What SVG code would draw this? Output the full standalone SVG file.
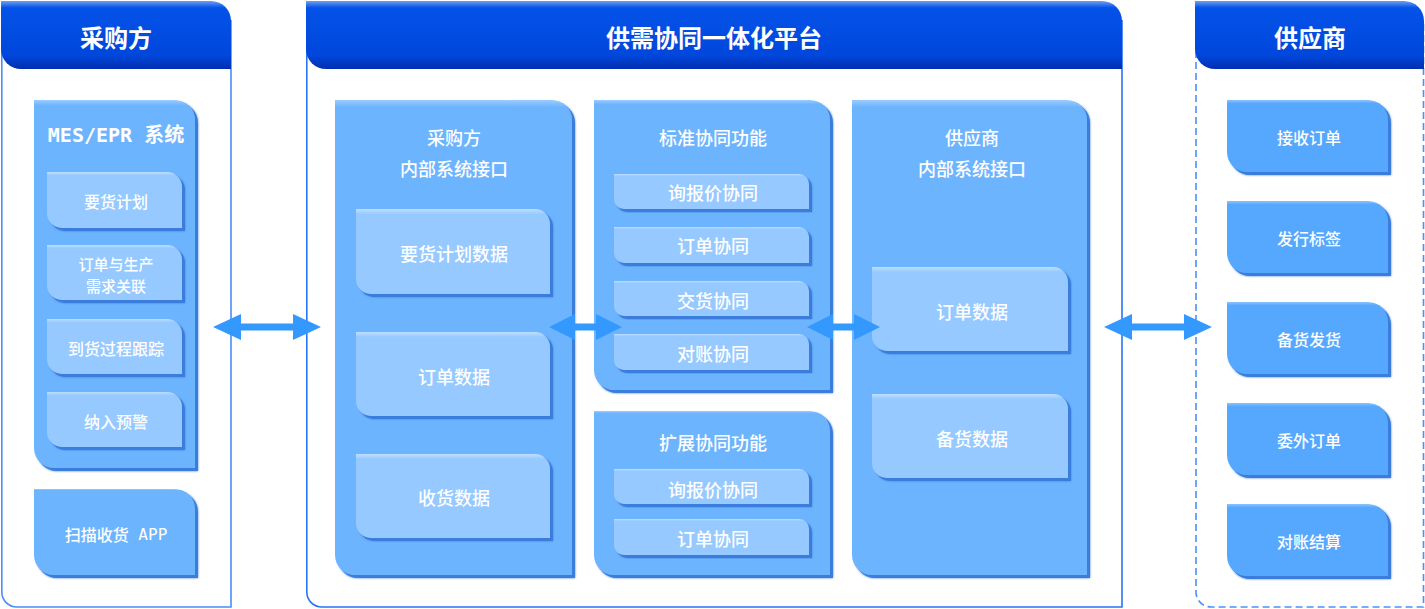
<svg xmlns="http://www.w3.org/2000/svg" width="1425" height="609" viewBox="0 0 1425 609">
<style>
text{font-family:"Noto Sans CJK SC","Noto Sans",sans-serif;fill:#fff;text-anchor:middle;dominant-baseline:central;font-weight:500}
.h{font-size:24px;font-weight:bold}
.t{font-size:18px}
.s{font-size:16px}
.s2{font-size:15px}
.m{font-family:"DejaVu Sans Mono","Noto Sans CJK SC",monospace}
.frame{fill:none;stroke-width:1.6}
.box{fill:url(#gBox);filter:url(#bev)}
.sub{fill:url(#gSub);filter:url(#bev)}
.rbox{fill:url(#gR);filter:url(#bev)}
.hdr{fill:url(#gH)}
.arr{fill:#3399ff}
</style>
<defs>
<linearGradient id="gH" x1="0" y1="0" x2="0" y2="1">
<stop offset="0" stop-color="#6d9ef0"/><stop offset="0.1" stop-color="#0552e8"/><stop offset="0.8" stop-color="#0047dc"/><stop offset="1" stop-color="#002fb0"/>
</linearGradient>
<linearGradient id="gBox" x1="0" y1="0" x2="0" y2="1">
<stop offset="0" stop-color="#9ccbff"/><stop offset="0.015" stop-color="#6db4ff"/><stop offset="1" stop-color="#6db4ff"/>
</linearGradient>
<linearGradient id="gSub" x1="0" y1="0" x2="0" y2="1">
<stop offset="0" stop-color="#c0dfff"/><stop offset="0.06" stop-color="#95c9ff"/><stop offset="1" stop-color="#95c9ff"/>
</linearGradient>
<linearGradient id="gR" x1="0" y1="0" x2="0" y2="1">
<stop offset="0" stop-color="#8cc3ff"/><stop offset="0.05" stop-color="#56a8ff"/><stop offset="1" stop-color="#56a8ff"/>
</linearGradient>
<filter id="bev" x="-5%" y="-5%" width="115%" height="115%">
<feOffset in="SourceAlpha" dx="3" dy="3" result="o"/>
<feFlood flood-color="#3b7ddc"/>
<feComposite in2="o" operator="in" result="s"/>
<feGaussianBlur in="s" stdDeviation="1" result="sb"/>
<feMerge><feMergeNode in="sb"/><feMergeNode in="s"/><feMergeNode in="SourceGraphic"/></feMerge>
</filter>
</defs>

<g id="buyer-panel">
<path class="frame" stroke="#4b8df8" d="M1.8,40 V592 A15,15 0 0 0 16.8,607 H231 V20"/>
<path class="hdr" d="M1,1 H211 A20,20 0 0 1 231,21 V69 H21 A20,20 0 0 1 1,49 Z"/>
<text class="h" x="116" y="36">采购方</text>
</g>
<g id="mes">
<path class="box" d="M34,100 H175 A20,20 0 0 1 195,120 V468 H54 A20,20 0 0 1 34,448 Z"/>
<text class="m" style="font-size:20px;font-weight:bold" x="116" y="135">MES/EPR 系统</text>
</g>
<g id="mes-1"><path class="sub" d="M47,172 H167 A15,15 0 0 1 182,187 V228 H62 A15,15 0 0 1 47,213 Z"/><text class="s" x="116" y="201">要货计划</text></g>
<g id="mes-2"><path class="sub" d="M47,245 H167 A15,15 0 0 1 182,260 V300 H62 A15,15 0 0 1 47,285 Z"/><text class="s2" x="116" y="263">订单与生产</text><text class="s2" x="116" y="285">需求关联</text></g>
<g id="mes-3"><path class="sub" d="M47,319 H167 A15,15 0 0 1 182,334 V374 H62 A15,15 0 0 1 47,359 Z"/><text class="s" x="116" y="348">到货过程跟踪</text></g>
<g id="mes-4"><path class="sub" d="M47,392 H167 A15,15 0 0 1 182,407 V447 H62 A15,15 0 0 1 47,432 Z"/><text class="s" x="116" y="421">纳入预警</text></g>
<g id="scan-app">
<path class="box" d="M34,489 H175 A20,20 0 0 1 195,509 V575 H54 A20,20 0 0 1 34,555 Z"/>
<text class="s" x="116" y="534"><tspan>扫描收货</tspan><tspan class="m"> APP</tspan></text>
</g>

<g id="platform-panel">
<path class="frame" stroke="#2a74f6" d="M306.8,40 V592 A15,15 0 0 0 321.8,607 H1122 V20"/>
<path class="hdr" d="M306,1 H1102 A20,20 0 0 1 1122,21 V69 H326 A20,20 0 0 1 306,49 Z"/>
<text class="h" x="714" y="36">供需协同一体化平台</text>
</g>
<g id="buyer-interface">
<path class="box" d="M335,100 H552 A20,20 0 0 1 572,120 V575 H355 A20,20 0 0 1 335,555 Z"/>
<text class="t" x="454" y="137">采购方</text><text class="t" x="454" y="168">内部系统接口</text>
</g>
<g id="bi-1"><path class="sub" d="M356,209 H535 A15,15 0 0 1 550,224 V294 H371 A15,15 0 0 1 356,279 Z"/><text class="t" x="454" y="253">要货计划数据</text></g>
<g id="bi-2"><path class="sub" d="M356,332 H535 A15,15 0 0 1 550,347 V416 H371 A15,15 0 0 1 356,401 Z"/><text class="t" x="454" y="376">订单数据</text></g>
<g id="bi-3"><path class="sub" d="M356,454 H535 A15,15 0 0 1 550,469 V538 H371 A15,15 0 0 1 356,523 Z"/><text class="t" x="454" y="497">收货数据</text></g>

<g id="standard">
<path class="box" d="M594,100 H810 A20,20 0 0 1 830,120 V390 H614 A20,20 0 0 1 594,370 Z"/>
<text class="t" x="713" y="137">标准协同功能</text>
</g>
<g id="std-1"><path class="sub" d="M614,174 H799 A10,10 0 0 1 809,184 V209 H624 A10,10 0 0 1 614,199 Z"/><text class="t" x="713" y="192">询报价协同</text></g>
<g id="std-2"><path class="sub" d="M614,227 H799 A10,10 0 0 1 809,237 V263 H624 A10,10 0 0 1 614,253 Z"/><text class="t" x="713" y="245">订单协同</text></g>
<g id="std-3"><path class="sub" d="M614,281 H799 A10,10 0 0 1 809,291 V316 H624 A10,10 0 0 1 614,306 Z"/><text class="t" x="713" y="300">交货协同</text></g>
<g id="std-4"><path class="sub" d="M614,334 H799 A10,10 0 0 1 809,344 V370 H624 A10,10 0 0 1 614,360 Z"/><text class="t" x="713" y="353">对账协同</text></g>

<g id="extended">
<path class="box" d="M594,411 H810 A20,20 0 0 1 830,431 V575 H614 A20,20 0 0 1 594,555 Z"/>
<text class="t" x="713" y="442">扩展协同功能</text>
</g>
<g id="ext-1"><path class="sub" d="M614,469 H799 A10,10 0 0 1 809,479 V504 H624 A10,10 0 0 1 614,494 Z"/><text class="t" x="713" y="489">询报价协同</text></g>
<g id="ext-2"><path class="sub" d="M614,519 H799 A10,10 0 0 1 809,529 V555 H624 A10,10 0 0 1 614,545 Z"/><text class="t" x="713" y="538">订单协同</text></g>

<g id="supplier-interface">
<path class="box" d="M852,100 H1067 A20,20 0 0 1 1087,120 V575 H872 A20,20 0 0 1 852,555 Z"/>
<text class="t" x="972" y="137">供应商</text><text class="t" x="972" y="168">内部系统接口</text>
</g>
<g id="si-1"><path class="sub" d="M872,267 H1053 A15,15 0 0 1 1068,282 V351 H887 A15,15 0 0 1 872,336 Z"/><text class="t" x="972" y="311">订单数据</text></g>
<g id="si-2"><path class="sub" d="M872,394 H1053 A15,15 0 0 1 1068,409 V478 H887 A15,15 0 0 1 872,463 Z"/><text class="t" x="972" y="438">备货数据</text></g>

<g id="supplier-panel">
<path class="frame" stroke="#4b90fb" stroke-dasharray="7,4" d="M1196,40 V592 A15,15 0 0 0 1211,607 H1423.5 V20"/>
<path class="hdr" d="M1195,1 H1404 A20,20 0 0 1 1424,21 V69 H1215 A20,20 0 0 1 1195,49 Z"/>
<text class="h" x="1310" y="36">供应商</text>
</g>
<g id="sup-1"><path class="rbox" d="M1227,100 H1368 A20,20 0 0 1 1388,120 V172 H1247 A20,20 0 0 1 1227,152 Z"/><text class="s" x="1309" y="137">接收订单</text></g>
<g id="sup-2"><path class="rbox" d="M1227,201 H1368 A20,20 0 0 1 1388,221 V273 H1247 A20,20 0 0 1 1227,253 Z"/><text class="s" x="1309" y="238">发行标签</text></g>
<g id="sup-3"><path class="rbox" d="M1227,302 H1368 A20,20 0 0 1 1388,322 V374 H1247 A20,20 0 0 1 1227,354 Z"/><text class="s" x="1309" y="339">备货发货</text></g>
<g id="sup-4"><path class="rbox" d="M1227,403 H1368 A20,20 0 0 1 1388,423 V475 H1247 A20,20 0 0 1 1227,455 Z"/><text class="s" x="1309" y="440">委外订单</text></g>
<g id="sup-5"><path class="rbox" d="M1227,504 H1368 A20,20 0 0 1 1388,524 V576 H1247 A20,20 0 0 1 1227,556 Z"/><text class="s" x="1309" y="541">对账结算</text></g>

<g id="connectors">
<polygon class="arr" points="213,327 241,314 241,323.5 293,323.5 293,314 321,327 293,340 293,330.5 241,330.5 241,340"/>
<polygon class="arr" points="549,327 575,314 575,323.5 596,323.5 596,314 622,327 596,340 596,330.5 575,330.5 575,340"/>
<polygon class="arr" points="807,327 833,314 833,323.5 854,323.5 854,314 880,327 854,340 854,330.5 833,330.5 833,340"/>
<polygon class="arr" points="1104,327 1132,314 1132,323.5 1184,323.5 1184,314 1212,327 1184,340 1184,330.5 1132,330.5 1132,340"/>
</g>
</svg>
